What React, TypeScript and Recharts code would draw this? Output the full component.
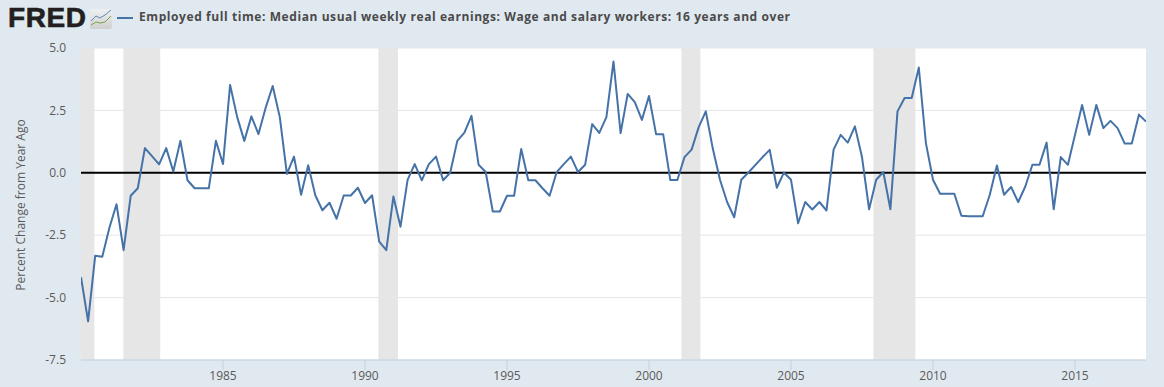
import React from "react";
import { LineChart, Line, XAxis, YAxis, CartesianGrid, ReferenceArea, ReferenceLine } from "recharts";

const START_YEAR = 1980;
const SERIES_NAME = "Employed full time: Median usual weekly real earnings: Wage and salary workers: 16 years and over";
const AXIS_LABEL = "Percent Change from Year Ago";
const xTicks = [1985, 1990, 1995, 2000, 2005, 2010, 2015];
const yTicks = [-7.5, -5, -2.5, 0, 2.5, 5];
const recessions: [number, number][] = [
  [1980, 1980.47],
  [1981.49, 1982.79],
  [1990.47, 1991.16],
  [2001.14, 2001.81],
  [2007.9, 2009.38],
];
const changes = [
  -4.18, -5.95, -3.32, -3.36, -2.2, -1.26, -3.1, -0.92,
  -0.62, 0.99, 0.67, 0.34, 0.99, 0.05, 1.28, -0.3,
  -0.62, -0.62, -0.62, 1.28, 0.35, 3.52, 2.23, 1.28,
  2.26, 1.55, 2.6, 3.48, 2.23, -0.04, 0.65, -0.88,
  0.3, -0.9, -1.5, -1.2, -1.84, -0.91, -0.91, -0.6,
  -1.21, -0.9, -2.76, -3.1, -0.95, -2.16, -0.28, 0.35,
  -0.3, 0.35, 0.65, -0.3, 0.0, 1.28, 1.61, 2.28,
  0.32, 0.03, -1.55, -1.55, -0.92, -0.92, 0.95, -0.3,
  -0.3, -0.62, -0.92, 0.03, 0.35, 0.65, 0.03, 0.32,
  1.95, 1.6, 2.23, 4.46, 1.59, 3.16, 2.83, 2.12,
  3.08, 1.54, 1.54, -0.29, -0.29, 0.63, 0.93, 1.83,
  2.46, 0.95, -0.28, -1.17, -1.78, -0.28, 0.01, 0.32,
  0.63, 0.92, -0.6, 0.01, -0.28, -2.02, -1.17, -1.47,
  -1.17, -1.51, 0.93, 1.52, 1.21, 1.86, 0.63, -1.46,
  -0.28, 0.03, -1.46, 2.46, 3.0, 3.0, 4.22, 1.19,
  -0.28, -0.84, -0.84, -0.84, -1.72, -1.74, -1.74, -1.74,
  -0.88, 0.29, -0.88, -0.57, -1.17, -0.55, 0.32, 0.32,
  1.21, -1.46, 0.63, 0.32, 1.52, 2.72, 1.52, 2.72,
  1.79, 2.08, 1.79, 1.17, 1.17, 2.33, 2.05,
];
const data = changes.map((value, i) => ({ year: START_YEAR + i / 4, value }));

const FONT = "'Open Sans', sans-serif";
const BLUE = "#4572a7";
const INK = "#5a5a5a";

export default function App() {
  return (
    <div style={{ position: "relative", width: 1164, height: 387, background: "#e1e9f0", overflow: "hidden", fontFamily: FONT }}>
      <style>{"html,body{margin:0;padding:0;background:#e1e9f0}"}</style>
      <div style={{ position: "absolute", left: 8, top: 0, fontFamily: "'Liberation Sans', sans-serif", fontWeight: 700, fontSize: 28, lineHeight: "36px", color: "#231f20", letterSpacing: 0.6, WebkitTextStroke: "0.6px #231f20" }}>FRED</div>
      <svg style={{ position: "absolute", left: 90, top: 9 }} width={22} height={20}>
        <defs>
          <linearGradient id="ic" x1="0" y1="0" x2="0" y2="1">
            <stop offset="0" stopColor="#eef1f3" />
            <stop offset="1" stopColor="#cfcfcf" />
          </linearGradient>
        </defs>
        <rect x={0} y={0} width={22} height={20} rx={2} fill="url(#ic)" />
        <polyline points="1,12 6,7 10,9 15,6 21,1" fill="none" stroke="#5b87b5" strokeWidth={1} />
        <polyline points="1,16 6,13 10,14 15,13 21,7" fill="none" stroke="#7da04e" strokeWidth={1} />
      </svg>
      <div style={{ position: "absolute", left: 117, top: 17, width: 16, height: 2, background: BLUE }} />
      <div style={{ position: "absolute", left: 139, top: 8, fontWeight: 700, fontSize: 12, lineHeight: "18px", color: "#4a4a4a", letterSpacing: 0.58, whiteSpace: "nowrap" }}>{SERIES_NAME}</div>
      <LineChart width={1164} height={387} data={data} margin={{ top: 48, right: 18, bottom: 0, left: 0 }} style={{ position: "absolute", left: 0, top: 0 }}>
        <CartesianGrid horizontal vertical={false} stroke="#e6e6e6" strokeWidth={1} syncWithTicks fill="#ffffff" fillOpacity={1} />
        <XAxis
          dataKey="year"
          type="number"
          domain={[1980, 2017.5]}
          ticks={xTicks}
          allowDataOverflow
          stroke="#c0d0e0"
          tick={{ fill: INK, fontSize: 12, fontFamily: FONT }}
          tickSize={10}
          tickMargin={1}
          height={27}
          tickFormatter={(v: number) => String(v)}
        />
        <YAxis
          type="number"
          domain={[-7.5, 5]}
          ticks={yTicks}
          width={81}
          axisLine={false}
          tickLine={false}
          tickSize={0}
          tickMargin={15}
          tick={{ fill: INK, fontSize: 12, fontFamily: FONT }}
          tickFormatter={(v: number) => v.toFixed(1)}
          label={{ value: AXIS_LABEL, angle: -90, position: "insideLeft", offset: 0, dx: 21, dy: 1, fill: INK, fontSize: 12, fontFamily: FONT, style: { textAnchor: "middle" } }}
        />
        {recessions.map(([a, b]) => (
          <ReferenceArea key={a} x1={a} x2={b} fill="#e6e6e6" fillOpacity={1} stroke="none" ifOverflow="hidden" />
        ))}
        <ReferenceLine y={0} stroke="#000" strokeWidth={2} />
        <Line dataKey="value" stroke={BLUE} strokeWidth={2} dot={false} isAnimationActive={false} strokeLinejoin="round" />
      </LineChart>
    </div>
  );
}
